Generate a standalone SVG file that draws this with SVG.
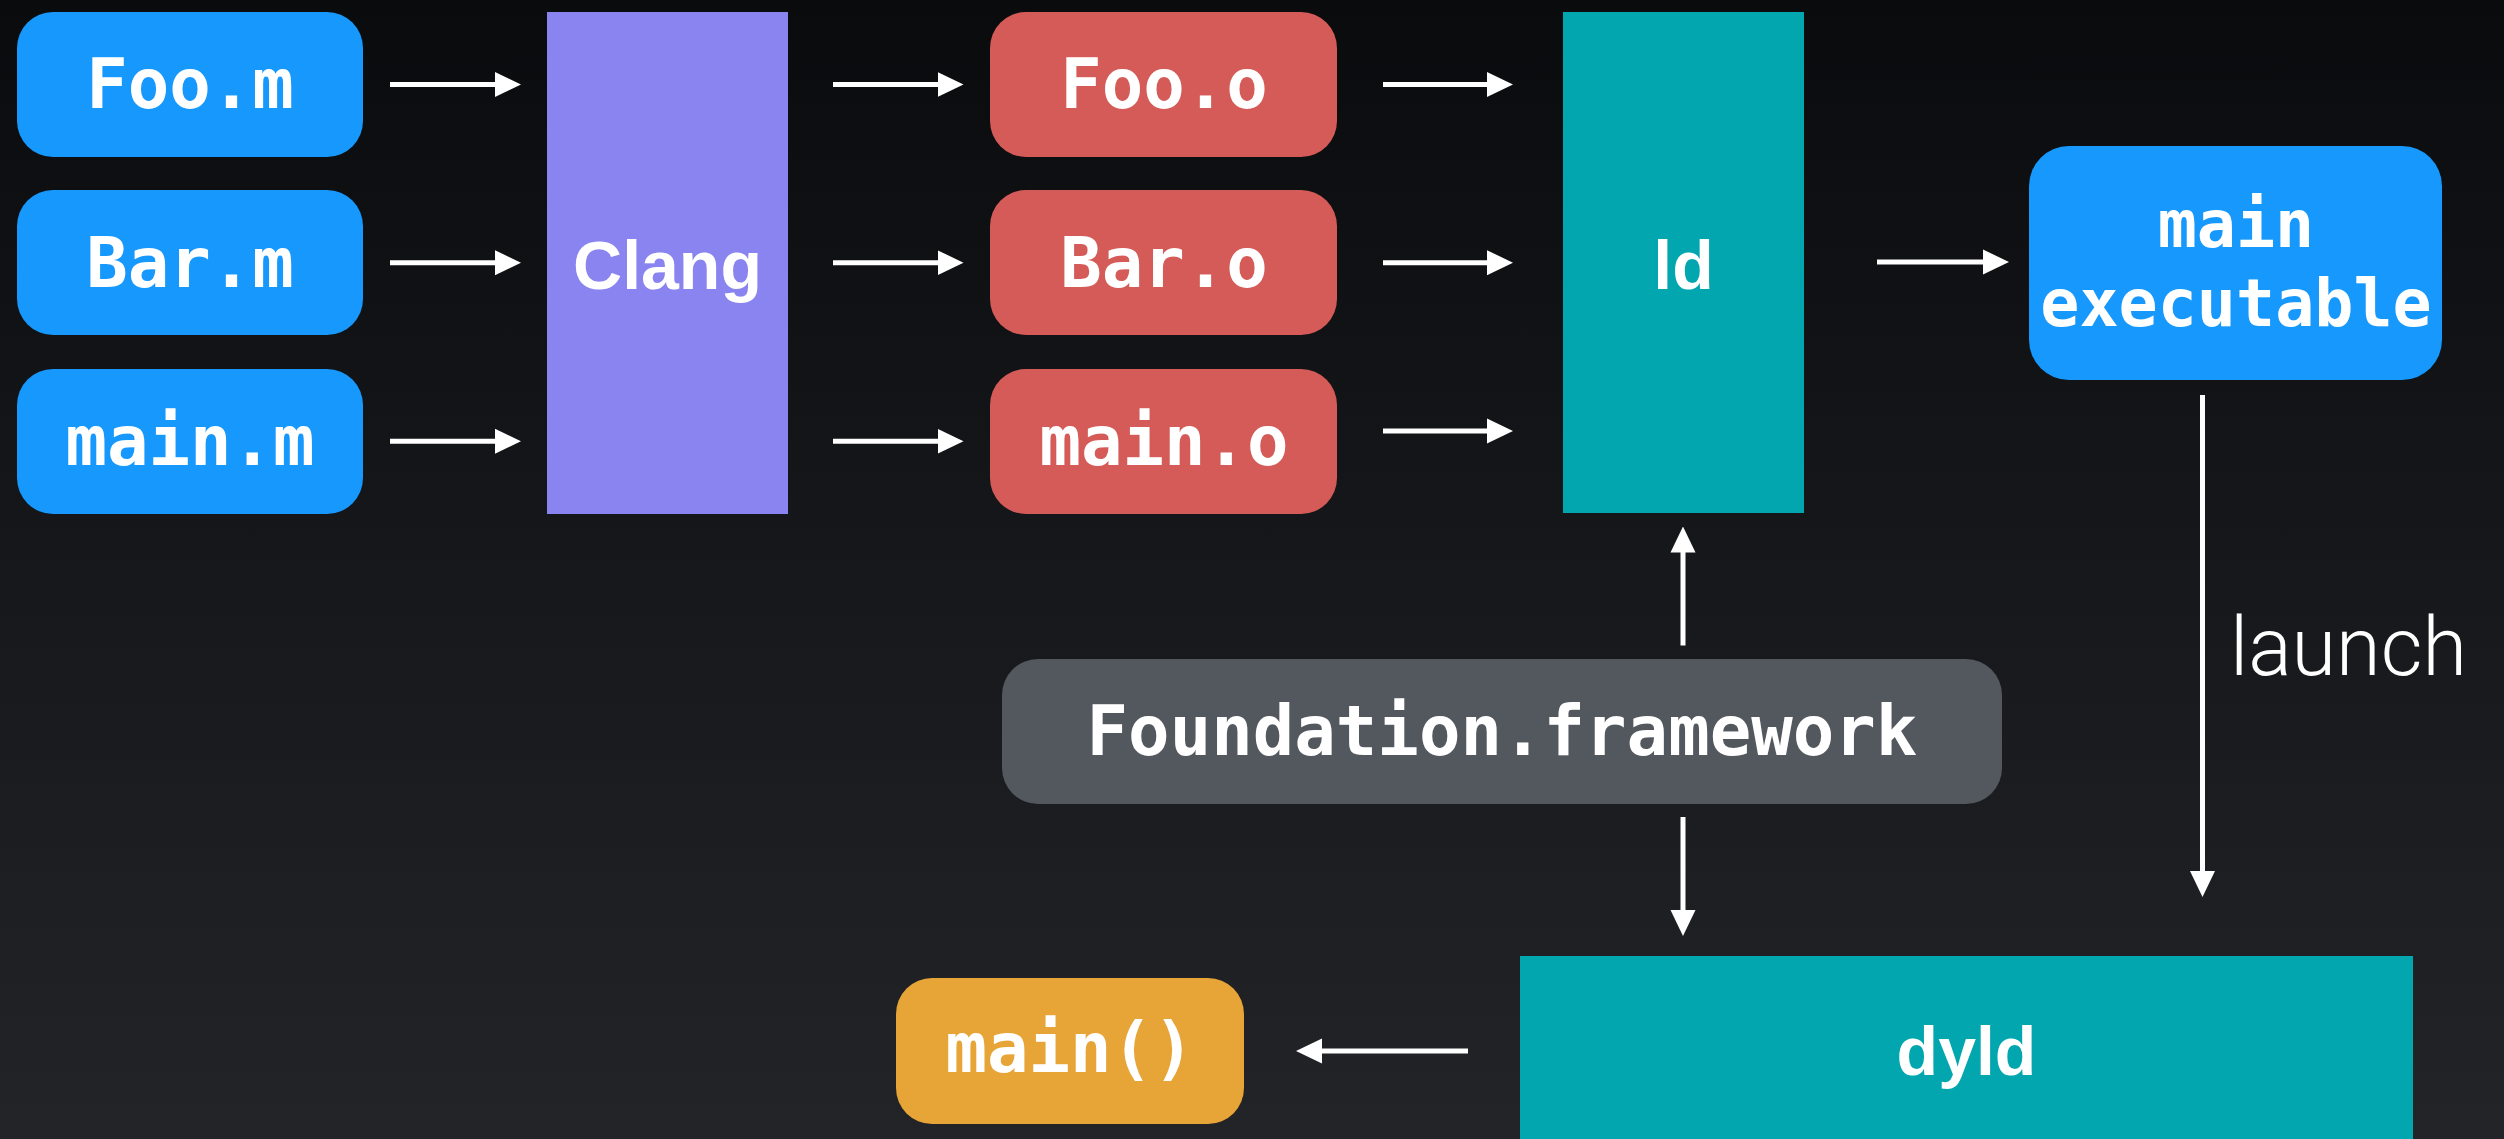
<svg xmlns="http://www.w3.org/2000/svg" width="2504" height="1139" viewBox="0 0 2504 1139">
  <defs>
    <linearGradient id="bg" x1="0" y1="0" x2="0" y2="1">
      <stop offset="0" stop-color="#0a0b0d"/>
      <stop offset="1" stop-color="#232428"/>
    </linearGradient>
    <marker id="ah" markerUnits="userSpaceOnUse" markerWidth="26" markerHeight="26" viewBox="0 0 26 25" refX="1" refY="12.5" orient="auto">
      <path d="M0,0 L26,12.5 L0,25 Z" fill="#ffffff"/>
    </marker>
    <style>
      .mono { font-family: "DejaVu Sans Mono", "Liberation Mono", monospace; font-weight: bold; font-size: 69px; fill: #ffffff; text-anchor: middle; }
      .sans { font-family: "Liberation Sans", Arial, sans-serif; font-weight: bold; font-size: 68px; fill: #ffffff; text-anchor: middle; }
      .light { font-family: Roboto, "Liberation Sans", sans-serif; font-weight: 300; font-size: 81px; fill: #ffffff; }
      .src { fill: #1698fc; }
      .obj { fill: #d45b57; }
      .tool { fill: #02a6ae; }
      .clang { fill: #8984ef; }
      .fw { fill: #53575e; }
      .fn { fill: #e7a437; }
      .conn line { stroke: #ffffff; stroke-width: 5; marker-end: url(#ah); }
    </style>
  </defs>
  <rect x="0" y="0" width="2504" height="1139" fill="url(#bg)"/>

  <g id="foo_m"><rect class="src" x="17" y="12" width="346" height="145" rx="36"/><text class="mono" x="190" y="108">Foo.m</text></g>
  <g id="bar_m"><rect class="src" x="17" y="190" width="346" height="145" rx="36"/><text class="mono" x="190" y="287">Bar.m</text></g>
  <g id="main_m"><rect class="src" x="17" y="369" width="346" height="145" rx="36"/><text class="mono" x="190" y="465">main.m</text></g>

  <g id="clang"><rect class="clang" x="547" y="12" width="241" height="502"/><text class="sans" x="667.5" y="289">Clang</text></g>

  <g id="foo_o"><rect class="obj" x="990" y="12" width="347" height="145" rx="36"/><text class="mono" x="1164" y="108">Foo.o</text></g>
  <g id="bar_o"><rect class="obj" x="990" y="190" width="347" height="145" rx="36"/><text class="mono" x="1164" y="287">Bar.o</text></g>
  <g id="main_o"><rect class="obj" x="990" y="369" width="347" height="145" rx="36"/><text class="mono" x="1164" y="465">main.o</text></g>

  <g id="ld"><rect class="tool" x="1563" y="12" width="241" height="501"/><text class="sans" x="1683.5" y="289">ld</text></g>

  <g id="main_exec"><rect class="src" x="2029" y="146" width="413" height="234" rx="40"/><text class="mono" x="2236" y="247" style="font-size:65px">main</text><text class="mono" x="2236" y="326" style="font-size:65px">executable</text></g>

  <g id="foundation"><rect class="fw" x="1002" y="659" width="1000" height="145" rx="36"/><text class="mono" x="1502" y="755">Foundation.framework</text></g>

  <g id="dyld"><rect class="tool" x="1520" y="956" width="893" height="190"/><text class="sans" x="1966.5" y="1075">dyld</text></g>

  <g id="main_fn"><rect class="fn" x="896" y="978" width="348" height="146" rx="36"/><text class="mono" x="1070" y="1072">main()</text></g>

  <g id="connectors" class="conn">
    <line x1="390" y1="84.5" x2="496" y2="84.5"/>
    <line x1="390" y1="262.7" x2="496" y2="262.7"/>
    <line x1="390" y1="441.2" x2="496" y2="441.2"/>
    <line x1="833" y1="84.5" x2="938.5" y2="84.5"/>
    <line x1="833" y1="262.7" x2="938.5" y2="262.7"/>
    <line x1="833" y1="441.2" x2="938.5" y2="441.2"/>
    <line x1="1383" y1="84.5" x2="1488" y2="84.5"/>
    <line x1="1383" y1="262.7" x2="1488" y2="262.7"/>
    <line x1="1383" y1="431" x2="1488" y2="431"/>
    <line x1="1877" y1="262" x2="1984" y2="262"/>
    <line x1="2202.5" y1="395" x2="2202.5" y2="872"/>
    <line x1="1683" y1="645.5" x2="1683" y2="551.5"/>
    <line x1="1683" y1="817" x2="1683" y2="911"/>
    <line x1="1468" y1="1051" x2="1321" y2="1051"/>
  </g>
  <text id="launch_label" class="light" x="2230" y="675">launch</text>
</svg>
